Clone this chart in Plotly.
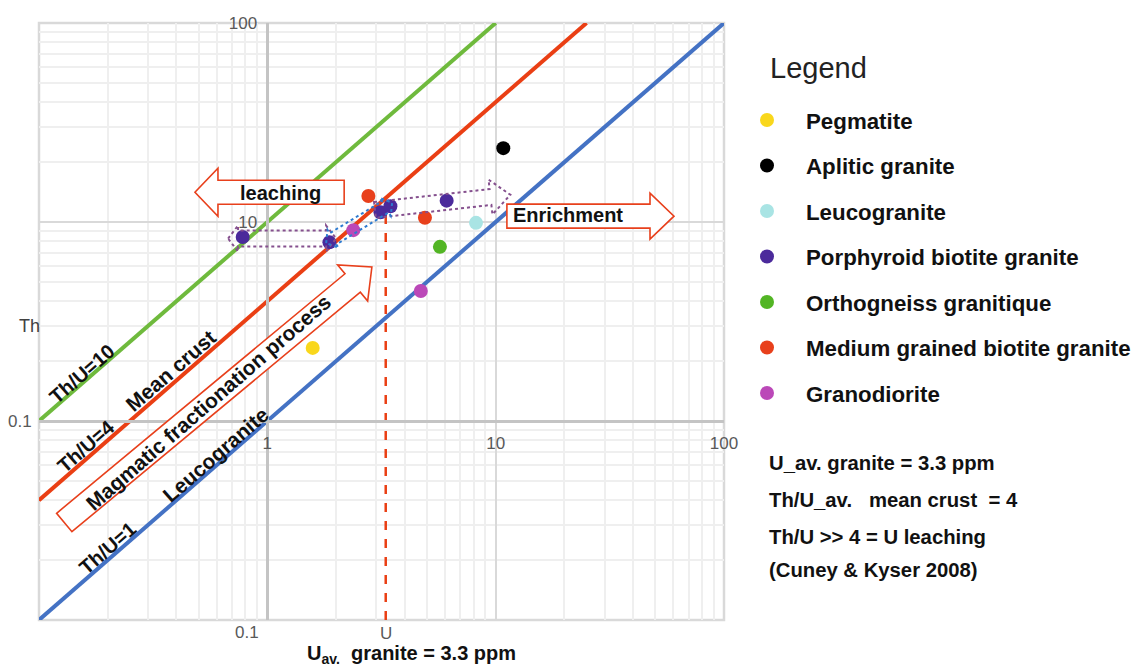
import math
import plotly.graph_objects as go

FONT = "Liberation Sans, Arial, sans-serif"

# ---- sample data: U (ppm) vs Th (ppm) ----
groups = ["Pegmatite", "Aplitic granite", "Leucogranite", "Porphyroid biotite granite",
          "Orthogneiss granitique", "Medium grained biotite granite", "Granodiorite"]
colors = ["#f9d71c", "#000000", "#a9e4e4", "#4b2a9b", "#52b524", "#e8401c", "#bb48b8"]

u_pegmatite = [1.58]
th_pegmatite = [2.33]
u_aplitic = [10.8]
th_aplitic = [23.5]
u_leuco = [8.2]
th_leuco = [9.9]
u_porphyroid = [0.78, 1.87, 3.13, 3.46, 6.1]
th_porphyroid = [8.4, 7.9, 11.2, 12.0, 12.8]
u_ortho = [5.7]
th_ortho = [7.5]
u_medium = [2.77, 4.9]
th_medium = [13.5, 10.5]
u_grano = [2.38, 4.7]
th_grano = [9.1, 4.5]

u_values = [u_pegmatite, u_aplitic, u_leuco, u_porphyroid, u_ortho, u_medium, u_grano]
th_values = [th_pegmatite, th_aplitic, th_leuco, th_porphyroid, th_ortho, th_medium, th_grano]

# ---- reference Th/U ratio lines ----
ratio_values = [10, 4, 1]
ratio_u_start = [0.1, 0.1, 0.1]
ratio_u_end = [10, 25, 100]
ratio_colors = ["#6fba3d", "#ea3f14", "#4472c4"]

U_AV_GRANITE = 3.3
TH_U_CRUST = 4

# axis tick labels (the 0.1 labels are placed as notes below)
x_tickvals = [1, 10, 100]
x_ticktext = ["1", "10", "100"]
y_tickvals = [10, 100]
y_ticktext = ["10", "100"]

# ---- layout geometry ----
W, H = 1137, 667
M_L, M_R, M_T, M_B = 39, 413, 23, 47
PLOT_W, PLOT_H = W - M_L - M_R, H - M_T - M_B
DEC_X, DEC_Y = PLOT_W / 3, PLOT_H / 3

fig = go.Figure()

for r, u0, u1, c in zip(ratio_values, ratio_u_start, ratio_u_end, ratio_colors):
    fig.add_trace(go.Scatter(x=[u0, u1], y=[r * u0, r * u1], mode="lines",
                             line=dict(color=c, width=4), showlegend=False,
                             hoverinfo="skip"))

# average granite U marker line up to the mean-crust line
fig.add_trace(go.Scatter(x=[U_AV_GRANITE, U_AV_GRANITE],
                         y=[0.1, TH_U_CRUST * U_AV_GRANITE], mode="lines",
                         line=dict(color="#ea3f14", width=2.5, dash="dash"),
                         showlegend=False, hoverinfo="skip"))

for i, (name, c, us, ths) in enumerate(zip(groups, colors, u_values, th_values)):
    fig.add_trace(go.Scatter(x=us, y=ths, mode="markers", name=name,
                             legendgroup=f"g{i}",
                             marker=dict(color=c, size=14, line=dict(width=0))))


def to_px(u, th):
    return ((math.log10(u) + 1) * DEC_X, (math.log10(th) + 1) * DEC_Y)


def block_arrow(tail, tip, shaft, head, head_len, double=False):
    x0, y0 = to_px(*tail)
    x1, y1 = to_px(*tip)
    dx, dy = x1 - x0, y1 - y0
    L = math.hypot(dx, dy)
    ux, uy = dx / L, dy / L
    nx, ny = -uy, ux

    def P(s, t):
        return (x0 + ux * s + nx * t, y0 + uy * s + ny * t)

    hs, hh = shaft / 2, head / 2
    if double:
        pts = [P(0, 0), P(head_len, hh), P(head_len, hs), P(L - head_len, hs),
               P(L - head_len, hh), P(L, 0), P(L - head_len, -hh),
               P(L - head_len, -hs), P(head_len, -hs), P(head_len, -hh)]
    else:
        pts = [P(0, hs), P(L - head_len, hs), P(L - head_len, hh), P(L, 0),
               P(L - head_len, -hh), P(L - head_len, -hs), P(0, -hs)]
    return "M " + " L ".join(f"{x / PLOT_W:.5f},{y / PLOT_H:.5f}" for x, y in pts) + " Z"


shapes = [dict(type="rect", xref="paper", yref="paper", x0=0, y0=0, x1=1, y1=1,
               line=dict(color="#d9d9d9", width=2.5), layer="below")]

red_outline = dict(color="#e8401c", width=1.6)
shapes.append(dict(type="path", xref="paper", yref="paper", layer="above",
                   path=block_arrow((0.129, 0.309), (2.87, 5.94), 24, 47, 25),
                   line=red_outline, fillcolor="white"))
shapes.append(dict(type="path", xref="paper", yref="paper", layer="above",
                   path=block_arrow((2.17, 14.1), (0.482, 14.1), 24, 48, 23),
                   line=red_outline, fillcolor="white"))
shapes.append(dict(type="path", xref="paper", yref="paper", layer="above",
                   path=block_arrow((11.2, 10.7), (60.4, 10.7), 24, 46, 24),
                   line=red_outline, fillcolor="white"))

purple_dot = dict(color="#85508e", width=2, dash="dot")
blue_dot = dict(color="#2e7bd0", width=2, dash="dot")
shapes.append(dict(type="path", xref="paper", yref="paper", layer="above",
                   path=block_arrow((0.673, 8.26), (2.0, 8.26), 16, 26, 10, double=True),
                   line=purple_dot))
shapes.append(dict(type="path", xref="paper", yref="paper", layer="above",
                   path=block_arrow((2.96, 11.5), (11.6, 13.7), 16, 35, 20),
                   line=purple_dot))
shapes.append(dict(type="path", xref="paper", yref="paper", layer="above",
                   path=block_arrow((1.81, 7.84), (3.52, 12.5), 13, 21, 8, double=True),
                   line=blue_dot))


def note(text, u, th, size=20, angle=0, bold=True, color="#111111", **kw):
    return dict(text=text, x=math.log10(u), y=math.log10(th), xref="x", yref="y",
                showarrow=False, textangle=angle,
                font=dict(family=FONT, size=size, color=color,
                          weight=700 if bold else 400), **kw)


def pnote(text, xp, yp, size=20, bold=True, color="#111111", xanchor="center"):
    # position given in page pixels, converted to paper fractions
    return dict(text=text, x=(xp - M_L) / PLOT_W, y=(M_T + PLOT_H - yp) / PLOT_H,
                xref="paper", yref="paper", showarrow=False,
                xanchor=xanchor, yanchor="middle",
                font=dict(family=FONT, size=size, color=color,
                          weight=700 if bold else 400))


ANG = -41
annotations = [
    note("Th/U=10", 0.154, 1.72, 20, ANG),
    note("Mean crust", 0.378, 1.80, 21, ANG),
    note("Th/U=4", 0.161, 0.748, 20, ANG),
    note("Magmatic fractionation process", 0.55, 1.245, 21, ANG),
    note("Leucogranite", 0.596, 0.675, 21, ANG),
    note("Th/U=1", 0.200, 0.230, 20, ANG),
    note("leaching", 1.14, 14.0, 20),
    note("Enrichment", 20.7, 10.8, 20),
    note("U", U_AV_GRANITE, 0.1, 17, bold=False, color="#595959", yshift=-13),
    note("0.1", 0.1, 1, 17, bold=False, color="#595959", xshift=-19),
    note("0.1", 1, 0.1, 17, bold=False, color="#595959", xanchor="right",
         xshift=-6, yshift=-12),
    pnote("Th", 29, 326, 18, bold=False, color="#404040"),
    pnote("U<sub>av.</sub>  granite = 3.3 ppm", 305, 654, 20, xanchor="left"),
    pnote("Legend", 768, 68, 29, bold=False, color="#222222", xanchor="left"),
]
side_notes = ["U_av. granite = 3.3 ppm", "Th/U_av.   mean crust  = 4",
              "Th/U >> 4 = U leaching", "(Cuney & Kyser 2008)"]
side_y = [463, 500, 537, 570]
for t, yp in zip(side_notes, side_y):
    annotations.append(pnote(t.replace("  ", "\u00a0 "), 767, yp, 20.3, xanchor="left"))

minor_vals = [m * 10 ** e for e in range(-1, 2) for m in range(2, 10)]

axis_common = dict(type="log", range=[-1, 2], anchor="free", position=1 / 3,
                   showgrid=True, gridcolor="#d9d9d9", gridwidth=2,
                   showline=True, linecolor="#c4c4c4", linewidth=2.5,
                   ticks="", ticklabelstandoff=6, automargin=False,
                   tickfont=dict(family=FONT, size=17, color="#595959"),
                   minor=dict(tickvals=minor_vals, showgrid=True,
                              gridcolor="#efefef", gridwidth=1.5, ticks=""),
                   zeroline=False)

fig.update_layout(
    width=W, height=H,
    margin=dict(l=M_L, r=M_R, t=M_T, b=M_B, autoexpand=False),
    paper_bgcolor="white", plot_bgcolor="white",
    xaxis=dict(axis_common, tickvals=x_tickvals, ticktext=x_ticktext),
    yaxis=dict(axis_common, tickvals=y_tickvals, ticktext=y_ticktext),
    shapes=shapes,
    annotations=annotations,
    showlegend=True,
    legend=dict(x=(728 - M_L) / PLOT_W, xanchor="left",
                y=(M_T + PLOT_H - 99) / PLOT_H, yanchor="top",
                itemwidth=68, tracegroupgap=13.5, traceorder="grouped",
                bgcolor="rgba(0,0,0,0)",
                font=dict(family=FONT, size=22.3, color="#111111", weight=700)),
)

fig.write_html("out.html")
